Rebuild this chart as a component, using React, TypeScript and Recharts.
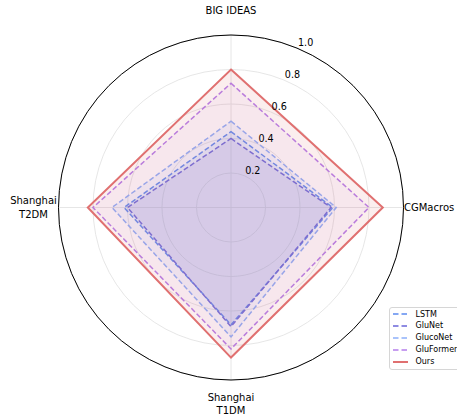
import React from 'react';
import { RadarChart, Radar, PolarGrid, PolarAngleAxis, PolarRadiusAxis } from 'recharts';

const categories = ['BIG IDEAS', 'CGMacros', 'Shanghai\nT1DM', 'Shanghai\nT2DM'];
const lstm = [0.44, 0.59, 0.68, 0.62];
const gluNet = [0.40, 0.58, 0.69, 0.60];
const glucoNet = [0.50, 0.61, 0.75, 0.69];
const gluFormer = [0.72, 0.80, 0.82, 0.80];
const ours = [0.80, 0.88, 0.87, 0.83];
const radiusTicks = [0.2, 0.4, 0.6, 0.8, 1.0];

const seriesNames = ['LSTM', 'GluNet', 'GlucoNet', 'GluFormer', 'Ours'];
const seriesValues = [lstm, gluNet, glucoNet, gluFormer, ours];
const seriesColors = ['#5C8AF0', '#6A66D9', '#8DB0FA', '#B57EEB', '#E07070'];
const seriesDash = ['5 2.5', '5 2.5', '5 2.5', '5 2.5', undefined];
const seriesWidth = [1.5, 1.5, 1.5, 1.5, 2];
const seriesFillOpacity = [0.1, 0.1, 0.1, 0.06, 0.12];

const data = categories.map((c, i) => {
  const row: Record<string, string | number> = { axis: c };
  seriesNames.forEach((n, k) => {
    row[n] = seriesValues[k][i];
  });
  return row;
});

const W = 457;
const H = 419;
const CX = 231;
const CY = 207.5;
const R = 172.5;
const FONT = 'DejaVu Sans';

const AngleTick = (props: any) => {
  const { x, y, payload } = props;
  const dx = x - CX;
  const dy = y - CY;
  const lines = String(payload.value).split('\n');
  if (Math.abs(dy) > Math.abs(dx)) {
    if (dy < 0) {
      return (
        <text x={CX} y={CY - R - 21.4} textAnchor="middle" fontFamily={FONT} fontSize={10} fill="#000">
          {lines[0]}
        </text>
      );
    }
    return (
      <text textAnchor="middle" fontFamily={FONT} fontSize={10} fill="#000">
        {lines.map((l, i) => (
          <tspan key={i} x={CX} y={CY + R + 20.6 + i * 13}>
            {l}
          </tspan>
        ))}
      </text>
    );
  }
  if (dx > 0) {
    return (
      <text x={CX + R + 0.5} y={CY + 3.8} textAnchor="start" fontFamily={FONT} fontSize={10} fill="#000">
        {lines[0]}
      </text>
    );
  }
  const cxText = CX - R - 25;
  return (
    <text textAnchor="middle" fontFamily={FONT} fontSize={10} fill="#000">
      {lines.map((l, i) => (
        <tspan key={i} x={cxText} y={CY - 3.4 + i * 14}>
          {l}
        </tspan>
      ))}
    </text>
  );
};

const RadiusTick = (props: any) => {
  const { x, y, payload } = props;
  const v = Number(payload.value);
  if (v <= 0) return <g />;
  return (
    <text x={x + 1} y={y - 2} textAnchor="start" fontFamily={FONT} fontSize={9.6} fill="#000">
      {v.toFixed(1)}
    </text>
  );
};

const LegendBox = () => (
  <div
    style={{
      position: 'absolute',
      left: 389,
      top: 307,
      width: 76,
      height: 63,
      border: '1px solid #d6d6d6',
      borderRadius: 3,
      background: 'rgba(255,255,255,0.85)',
      boxSizing: 'border-box',
      fontFamily: FONT,
      fontSize: 8,
      color: '#000',
    }}
  >
    {seriesNames.map((n, i) => (
      <div
        key={n}
        style={{
          position: 'absolute',
          left: 3,
          top: 0.5 + i * 11.9,
          height: 11.9,
          display: 'flex',
          alignItems: 'center',
          whiteSpace: 'nowrap',
        }}
      >
        <svg width={15} height={4} style={{ display: 'block' }}>
          <line
            x1={0}
            y1={2}
            x2={15}
            y2={2}
            stroke={seriesColors[i]}
            strokeWidth={seriesWidth[i]}
            strokeDasharray={seriesDash[i] ? '5.5 3' : undefined}
          />
        </svg>
        <span style={{ marginLeft: 7.5, lineHeight: '11.9px' }}>{n}</span>
      </div>
    ))}
  </div>
);

export default function App() {
  return (
    <div style={{ position: 'fixed', left: 0, top: 0, width: W, height: H, overflow: 'hidden', background: '#fff' }}>
      <RadarChart
        width={W}
        height={H}
        data={data}
        cx={CX}
        cy={CY}
        outerRadius={R}
        startAngle={90}
        endAngle={-270}
        margin={{ top: 0, right: 0, bottom: 0, left: 0 }}
      >
        <PolarGrid gridType="circle" stroke="#e3e3e3" strokeWidth={0.9} />
        <PolarAngleAxis
          dataKey="axis"
          tick={AngleTick}
          tickLine={false}
          axisLine={{ stroke: '#000', strokeWidth: 1 }}
          axisLineType="circle"
        />
        <PolarRadiusAxis
          angle={67.5}
          domain={[0, 1]}
          ticks={radiusTicks}
          tickCount={6}
          axisLine={false}
          tickLine={false}
          tick={RadiusTick}
        />
        {seriesNames.map((n, i) => (
          <Radar
            key={n}
            name={n}
            dataKey={n}
            stroke={seriesColors[i]}
            strokeWidth={seriesWidth[i]}
            strokeDasharray={seriesDash[i]}
            fill={seriesColors[i]}
            fillOpacity={seriesFillOpacity[i]}
            dot={false}
            isAnimationActive={false}
          />
        ))}
      </RadarChart>
      <LegendBox />
    </div>
  );
}
